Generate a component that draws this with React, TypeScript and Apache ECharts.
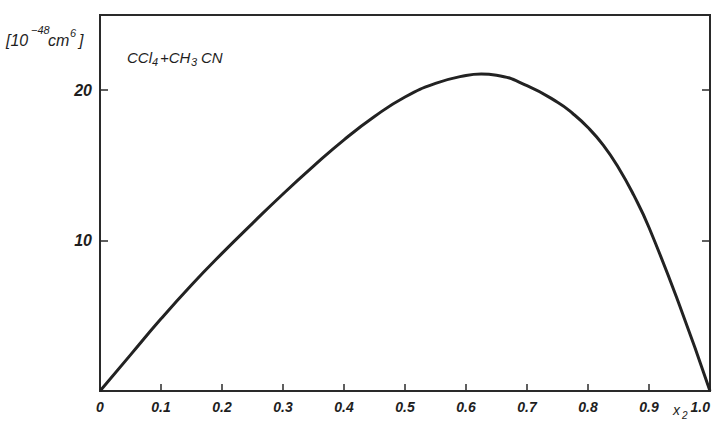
import React, { useEffect, useRef } from "react";
import * as echarts from "echarts";

const xValues = [0, 0.05, 0.1, 0.15, 0.2, 0.25, 0.3, 0.35, 0.4, 0.45, 0.5, 0.55, 0.6, 0.625, 0.65, 0.7, 0.75, 0.775, 0.8, 0.825, 0.85, 0.875, 0.9, 0.95, 1.0];
const yValues = [0, 2.4, 4.8, 7.05, 9.15, 11.15, 13.1, 14.95, 16.7, 18.25, 19.55, 20.45, 20.98, 21.08, 21.0, 20.3, 19.2, 18.45, 17.52, 16.35, 14.85, 13.02, 10.87, 5.7, 0];
const yTickLabels = [10, 20];

const FONT = "'Liberation Sans', 'DejaVu Sans', sans-serif";
const INK = "#1e1e1e";

export default function App() {
  const ref = useRef<HTMLDivElement>(null);
  useEffect(() => {
    if (!ref.current) return;
    const chart = echarts.init(ref.current, undefined, { renderer: "svg" });
    const txt = (text: string, x: number, y: number, size: number, extra: any = {}) => ({
      type: "text",
      x,
      y,
      style: {
        text,
        fontSize: size,
        fontStyle: "italic",
        fontFamily: FONT,
        fill: INK,
        textVerticalAlign: "middle",
        ...extra,
      },
    });
    chart.setOption({
      animation: false,
      backgroundColor: "#ffffff",
      grid: {
        left: 100,
        right: 4,
        top: 15,
        bottom: 32,
        containLabel: false,
        outerBoundsMode: "none",
        show: true,
        borderColor: "#2a2a2a",
        borderWidth: 2,
        backgroundColor: "transparent",
      },
      xAxis: {
        type: "value",
        min: 0,
        max: 1,
        interval: 0.1,
        axisLine: { show: true, lineStyle: { color: "#2a2a2a", width: 2 } },
        axisTick: { show: true, inside: true, length: 7, lineStyle: { color: "#2a2a2a", width: 1.5 } },
        splitLine: { show: false },
        axisLabel: {
          margin: 9,
          color: INK,
          fontSize: 14,
          fontStyle: "italic",
          fontWeight: "bold",
          fontFamily: FONT,
          showMaxLabel: true,
          alignMaxLabel: "right",
          formatter: (v: number) => (Math.abs(v) < 1e-9 ? "0" : v.toFixed(1)),
        },
      },
      yAxis: [
        {
          type: "value",
          min: 0,
          max: 25,
          interval: 10,
          axisLine: { show: true, lineStyle: { color: "#2a2a2a", width: 2 } },
          axisTick: { show: true, inside: true, length: 8, lineStyle: { color: "#2a2a2a", width: 1.5 } },
          splitLine: { show: false },
          axisLabel: {
            margin: 8,
            color: INK,
            fontSize: 16,
            fontStyle: "italic",
            fontWeight: "bold",
            fontFamily: FONT,
            formatter: (v: number) => (yTickLabels.indexOf(Math.round(v)) >= 0 && Math.abs(v - Math.round(v)) < 1e-9 ? String(v) : ""),
          },
        },
        {
          type: "value",
          position: "right",
          min: 0,
          max: 25,
          interval: 10,
          axisLine: { show: true, lineStyle: { color: "#2a2a2a", width: 2 } },
          axisTick: { show: true, inside: true, length: 8, lineStyle: { color: "#2a2a2a", width: 1.5 } },
          splitLine: { show: false },
          axisLabel: { show: false },
        },
      ],
      series: [
        {
          type: "line",
          data: xValues.map((x, i) => [x, yValues[i]]),
          smooth: 0.5,
          showSymbol: false,
          lineStyle: { color: "#222", width: 3 },
          yAxisIndex: 0,
        },
      ],
      graphic: [
        txt("[10", 6, 40, 16),
        txt("−48", 31, 30, 11),
        txt("cm", 48, 40, 16),
        txt("6", 70, 33, 11),
        txt("]", 79, 40, 16),
        txt("CCl", 127, 57, 15),
        txt("4", 152, 62, 11),
        txt("+CH", 160, 57, 15),
        txt("3", 191, 62, 11),
        txt("CN", 201, 57, 15),
        txt("x", 673, 410, 14),
        txt("2", 682, 415, 10),
      ],
    });
    return () => chart.dispose();
  }, []);
  return <div ref={ref} style={{ position: "fixed", left: 0, top: 0, width: 714, height: 423 }} />;
}
